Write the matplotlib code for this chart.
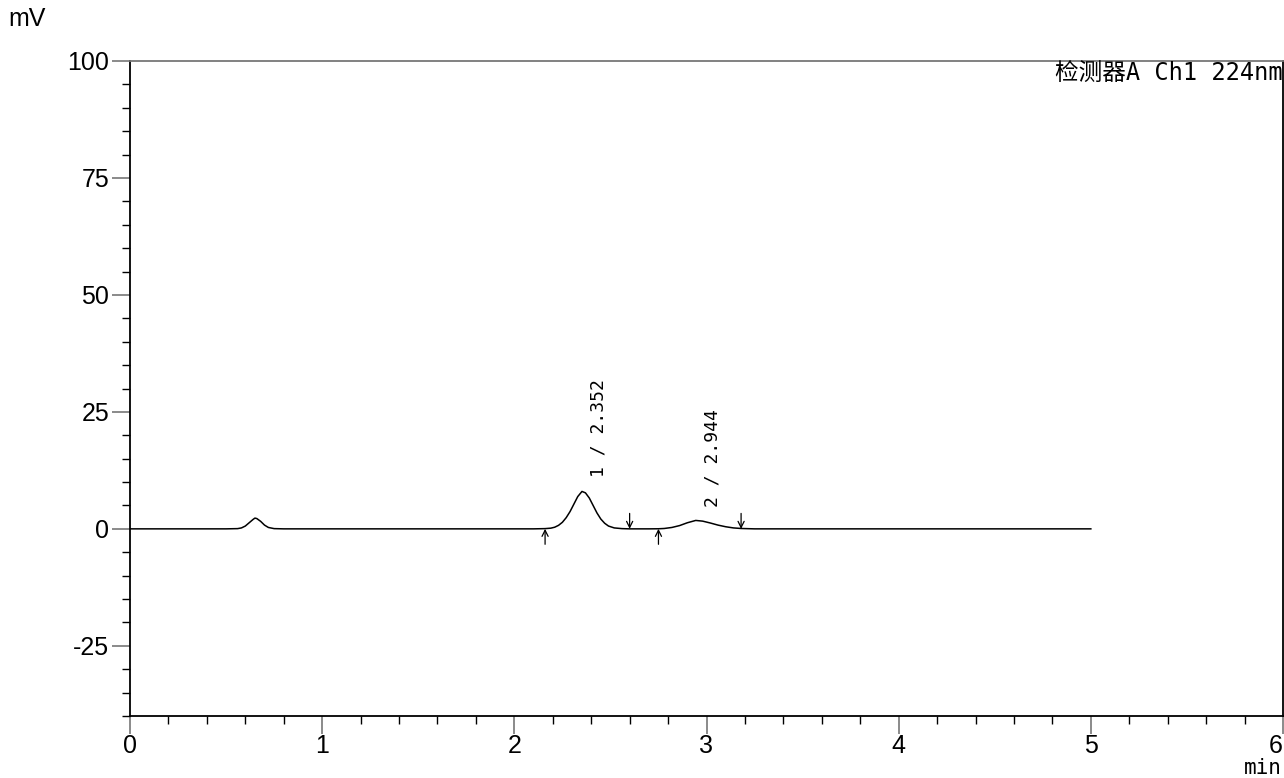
import numpy as np
import matplotlib.pyplot as plt
from matplotlib.ticker import MultipleLocator

plt.rcParams['axes.unicode_minus'] = False

# chromatogram trace (min, mV)
t = [0.0, 0.50, 0.56, 0.58, 0.60, 0.62, 0.64, 0.65, 0.66, 0.68, 0.70, 0.72, 0.75, 0.80,
     1.50, 2.10, 2.16, 2.19, 2.21, 2.23, 2.25, 2.27, 2.29, 2.31, 2.33, 2.352, 2.37, 2.39,
     2.41, 2.43, 2.45, 2.47, 2.49, 2.52, 2.56, 2.60, 2.70, 2.75, 2.78, 2.82, 2.86, 2.90,
     2.944, 2.98, 3.02, 3.06, 3.10, 3.14, 3.18, 3.25, 4.00, 5.00]
mv = [0.0, 0.0, 0.05, 0.2, 0.6, 1.3, 2.0, 2.3, 2.2, 1.6, 0.8, 0.3, 0.05, 0.0,
      0.0, 0.0, 0.05, 0.15, 0.35, 0.75, 1.4, 2.4, 3.7, 5.3, 6.9, 8.0, 7.7, 6.6,
      5.0, 3.4, 2.1, 1.2, 0.6, 0.2, 0.05, 0.0, 0.0, 0.02, 0.08, 0.3, 0.7, 1.3,
      1.8, 1.65, 1.25, 0.8, 0.45, 0.2, 0.08, 0.0, 0.0, 0.0]

peak_labels = ["1 / 2.352", "2 / 2.944"]
peak_label_x = [2.44, 3.03]
peak_label_y = [11.0, 4.6]
start_marks = [2.16, 2.75]
end_marks = [2.60, 3.18]

xticks = [0, 1, 2, 3, 4, 5, 6]
yticks = [-25, 0, 25, 50, 75, 100]

txt = ['DejaVu Sans Mono', 'Noto Sans CJK SC']
num = ['Liberation Sans', 'DejaVu Sans']

fig = plt.figure(figsize=(12.84, 7.78), dpi=100)
ax = fig.add_axes([130 / 1284, 1 - 716 / 778, 1153 / 1284, 655 / 778])

ax.plot(t, mv, color='black', lw=1.1)

# integration start/end arrows
arr = dict(arrowstyle='->', color='black', lw=0.9, mutation_scale=11,
           shrinkA=0, shrinkB=0)
for x in start_marks:
    ax.annotate('', xy=(x, 0), xytext=(x, -3.3), arrowprops=arr)
for x in end_marks:
    ax.annotate('', xy=(x, 0), xytext=(x, 3.3), arrowprops=arr)

for lab, x, y in zip(peak_labels, peak_label_x, peak_label_y):
    ax.text(x, y, lab, rotation=90, ha='center', va='bottom',
            family=txt, fontsize=13)

ax.set_xlim(0, 6)
ax.set_ylim(-40, 100)
ax.set_xticks(xticks, [str(v) for v in xticks], fontfamily=num)
ax.set_yticks(yticks, [str(v) for v in yticks], fontfamily=num)
ax.xaxis.set_minor_locator(MultipleLocator(0.2))
ax.yaxis.set_minor_locator(MultipleLocator(5))

ax.tick_params(which='major', direction='out', length=13, width=1.2,
               color='#777777', labelsize=18, pad=2)
ax.tick_params(axis='x', which='major', pad=0)
ax.tick_params(which='minor', direction='out', length=6, width=1.0, color='black')
ax.xaxis.get_major_ticks()[-1].label1.set_horizontalalignment('right')

for s in ['left', 'bottom', 'right']:
    ax.spines[s].set_color('black')
    ax.spines[s].set_linewidth(1.3)
ax.spines['top'].set_color('#777777')
ax.spines['top'].set_linewidth(1.3)

ax.text(0.9995, 1.0, '检测器A Ch1 224nm', transform=ax.transAxes,
        ha='right', va='top', family=txt, fontsize=17)

fig.text(8 / 1284, 1 - 31 / 778, 'mV', family=num, fontsize=18, ha='left', va='bottom')
fig.text(1282 / 1284, 0, 'min', family=txt, fontsize=15, ha='right', va='bottom')

fig.savefig('out.png', dpi=100)
